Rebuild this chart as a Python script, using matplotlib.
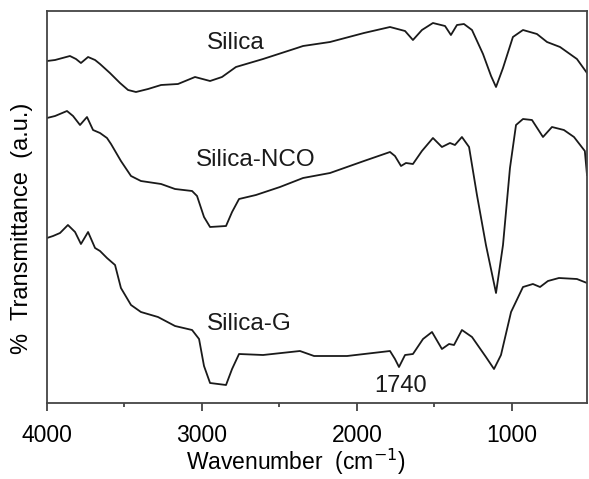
import matplotlib.pyplot as plt

plt.rcParams['font.family'] = ['Liberation Sans', 'DejaVu Sans']

# wavenumbers (cm-1) and transmittance (a.u., offset curves)
wn_silica = [4000, 3948, 3852, 3813, 3781, 3735, 3690, 3658, 3594, 3529, 3477, 3426,
             3348, 3264, 3155, 3045, 2948, 2871, 2781, 2606, 2387, 2348, 2174, 1955,
             1787, 1690, 1639, 1581, 1510, 1432, 1394, 1355, 1310, 1258, 1187, 1135,
             1103, 1058, 994, 929, 839, 774, 690, 581, 516]
t_silica = [342, 343, 347, 344, 340, 346, 343, 339, 330, 320, 313, 311,
            314, 318, 319, 326, 322, 326, 336, 344, 355, 357, 361, 370,
            376, 372, 363, 373, 380, 377, 368, 378, 379, 373, 349, 327,
            316, 335, 366, 373, 369, 361, 356, 344, 330]

wn_nco = [4000, 3948, 3871, 3832, 3787, 3742, 3703, 3658, 3613, 3587, 3523, 3458,
          3394, 3264, 3174, 3064, 3032, 2987, 2948, 2845, 2806, 2761, 2652, 2497,
          2348, 2174, 1955, 1787, 1755, 1716, 1684, 1639, 1581, 1510, 1452, 1400,
          1368, 1323, 1277, 1226, 1168, 1103, 1058, 1013, 974, 929, 871, 800,
          742, 665, 600, 530, 516]
t_nco = [285, 287, 292, 287, 278, 286, 273, 270, 265, 259, 242, 227,
         222, 219, 214, 212, 207, 186, 176, 177, 191, 204, 208, 216,
         225, 230, 242, 251, 247, 237, 240, 239, 252, 265, 256, 260,
         258, 266, 256, 208, 158, 110, 158, 235, 278, 284, 283, 266,
         276, 273, 266, 252, 228]

wn_g = [4000, 3961, 3916, 3865, 3819, 3781, 3735, 3690, 3658, 3613, 3561, 3523,
        3458, 3394, 3284, 3174, 3064, 3019, 2987, 2948, 2845, 2806, 2761, 2606,
        2368, 2277, 2064, 1787, 1755, 1729, 1690, 1639, 1574, 1516, 1452, 1406,
        1374, 1323, 1258, 1168, 1116, 1071, 1006, 929, 865, 819, 768, 697,
        581, 516]
t_g = [165, 167, 170, 178, 171, 159, 171, 155, 152, 145, 138, 115,
       98, 91, 86, 77, 73, 64, 37, 20, 18, 34, 49, 48,
       52, 47, 47, 52, 44, 36, 48, 49, 64, 71, 54, 59,
       58, 73, 66, 46, 34, 48, 91, 116, 119, 116, 122, 125,
       124, 120]

labels = ['Silica', 'Silica-NCO', 'Silica-G']
label_pos = [(2781, 360), (2652, 243), (2697, 79)]

fig = plt.figure(figsize=(5.89, 4.79), dpi=100)
ax = fig.add_axes([47 / 589, 76 / 479, 540 / 589, 392 / 479])

for wn, t in [(wn_silica, t_silica), (wn_nco, t_nco), (wn_g, t_g)]:
    ax.plot(wn, t, color='#1a1a1a', linewidth=1.3)

for name, (x, y) in zip(labels, label_pos):
    ax.text(x, y, name, fontsize=17.5, ha='center', va='center', color='#1a1a1a')
ax.text(1722, 17, '1740', fontsize=17, ha='center', va='center', color='#1a1a1a')

ax.set_xlim(4000, 516)
ax.set_ylim(0, 392)
ax.set_xticks([4000, 3000, 2000, 1000])
ax.set_xticks([3500, 2500, 1500], minor=True)
ax.set_yticks([])
ax.tick_params(axis='x', which='major', length=6, width=1.2, labelsize=16.5, pad=9,
               color='#333333')
ax.tick_params(axis='x', which='minor', length=3, width=1.2, color='#333333')
for s in ax.spines.values():
    s.set_color('#444444')
    s.set_linewidth(1.3)

ax.set_xlabel('Wavenumber  (cm$^{-1}$)', fontsize=16.5)
ax.xaxis.set_label_coords(0.46, -0.112)
fig.text(22 / 589, 1 - 228 / 479, '%  Transmittance  (a.u.)', rotation=90,
         fontsize=17, ha='center', va='center')

fig.savefig('out.png', dpi=100)
